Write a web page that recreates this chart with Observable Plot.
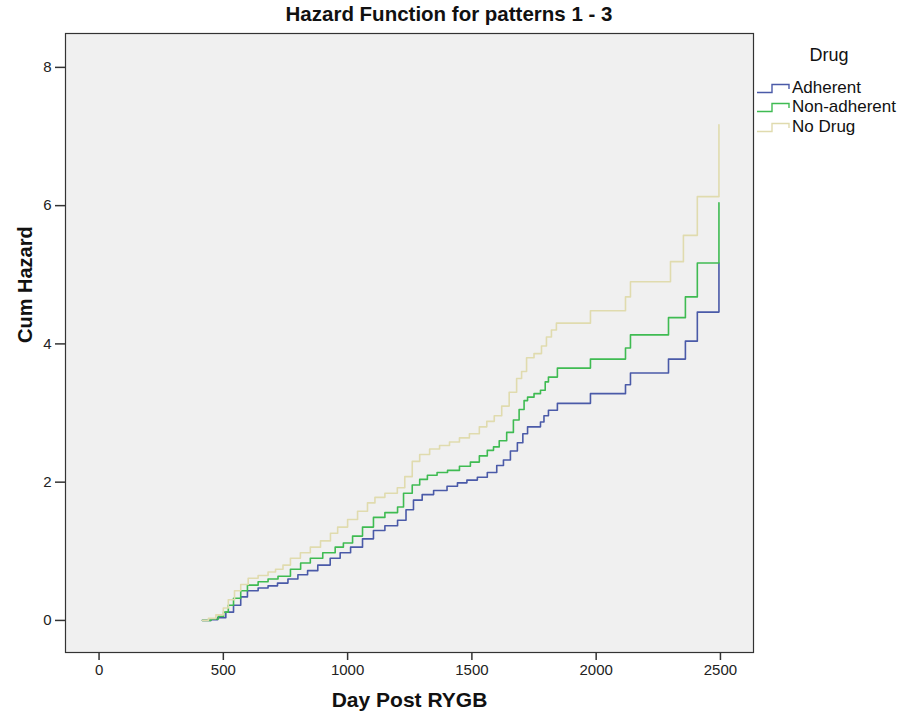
<!DOCTYPE html>
<html>
<head>
<meta charset="utf-8">
<script src="https://cdn.jsdelivr.net/npm/d3@7"></script>
<script src="https://cdn.jsdelivr.net/npm/@observablehq/plot@0.6"></script>
<style>
  body { margin: 0; background: #fff; font-family: "Liberation Sans", Arial, sans-serif; }
  #wrap { position: relative; width: 906px; height: 724px; overflow: hidden; }
  #title { position: absolute; left: 0; top: 2px; width: 898px; text-align: center; font-weight: bold; font-size: 20.5px; line-height: 24px; color: #111; }
  #chart { position: absolute; left: 0; top: 30px; }
  #legend { position: absolute; left: 757px; top: 40px; width: 149px; color: #111; }
  #legend .head { position: absolute; left: 48px; top: 4px; width: 48px; text-align: center; font-size: 18px; line-height: 22px; }
  #legend .row { position: absolute; left: 0; height: 20px; font-size: 17px; line-height: 20px; white-space: nowrap; }
  #legend .row svg { position: absolute; left: 0; top: 0; }
  #legend .row span { position: absolute; left: 35px; top: 0; }
</style>
</head>
<body>
<div id="wrap">
  <div id="title">Hazard Function for patterns 1 - 3</div>
  <div id="chart"></div>
  <div id="legend"></div>
</div>
<script>
// ---- Data ----
const groups = ["Adherent", "Non-adherent", "No Drug"];
const colors = ["#4a5aa8", "#3fbb52", "#e0dbae"];

const daysAdherent = [416, 450, 477, 510, 541, 570, 597, 640, 680, 718, 760, 800, 839, 880, 930, 970, 1012, 1060, 1104, 1150, 1201, 1235, 1265, 1300, 1346, 1400, 1442, 1480, 1522, 1562, 1600, 1627, 1655, 1683, 1705, 1724, 1776, 1790, 1808, 1844, 1977, 2118, 2138, 2291, 2359, 2407, 2494];
const hazAdherent = [0, 0.01, 0.04, 0.12, 0.22, 0.34, 0.43, 0.47, 0.50, 0.54, 0.60, 0.66, 0.72, 0.80, 0.90, 0.98, 1.06, 1.18, 1.30, 1.37, 1.45, 1.60, 1.74, 1.82, 1.88, 1.94, 1.99, 2.03, 2.07, 2.14, 2.24, 2.32, 2.45, 2.57, 2.70, 2.80, 2.87, 2.96, 3.04, 3.14, 3.28, 3.41, 3.58, 3.78, 4.04, 4.46, 5.17];

const daysNonAdherent = [416, 450, 480, 501, 520, 541, 570, 597, 640, 680, 720, 770, 811, 850, 900, 950, 983, 1020, 1060, 1104, 1150, 1201, 1225, 1260, 1290, 1321, 1360, 1402, 1450, 1494, 1530, 1562, 1587, 1610, 1640, 1667, 1690, 1710, 1724, 1750, 1776, 1795, 1808, 1844, 1977, 2118, 2138, 2291, 2359, 2407, 2494];
const hazNonAdherent = [0, 0.02, 0.06, 0.12, 0.22, 0.32, 0.43, 0.51, 0.56, 0.60, 0.64, 0.74, 0.83, 0.90, 0.98, 1.06, 1.12, 1.22, 1.35, 1.49, 1.56, 1.64, 1.84, 1.96, 2.04, 2.10, 2.14, 2.17, 2.23, 2.29, 2.38, 2.46, 2.51, 2.60, 2.72, 2.90, 3.05, 3.18, 3.23, 3.28, 3.33, 3.45, 3.52, 3.65, 3.78, 3.94, 4.13, 4.38, 4.68, 5.17, 6.04];

const daysNoDrug = [416, 440, 470, 500, 520, 545, 570, 600, 640, 680, 710, 740, 770, 810, 850, 891, 931, 960, 1000, 1040, 1080, 1110, 1150, 1200, 1230, 1260, 1290, 1330, 1370, 1410, 1450, 1490, 1530, 1560, 1590, 1620, 1650, 1680, 1700, 1720, 1750, 1780, 1800, 1820, 1840, 1977, 2118, 2138, 2299, 2351, 2407, 2494];
const hazNoDrug = [0, 0.03, 0.08, 0.18, 0.30, 0.43, 0.52, 0.61, 0.65, 0.70, 0.74, 0.80, 0.90, 0.98, 1.06, 1.15, 1.26, 1.35, 1.46, 1.58, 1.70, 1.78, 1.84, 1.92, 2.08, 2.30, 2.40, 2.48, 2.53, 2.58, 2.64, 2.70, 2.80, 2.88, 2.96, 3.10, 3.30, 3.50, 3.60, 3.80, 3.86, 3.97, 4.10, 4.20, 4.30, 4.48, 4.68, 4.90, 5.19, 5.57, 6.13, 7.17];

const xTicks = [0, 500, 1000, 1500, 2000, 2500];
const yTicks = [0, 2, 4, 6, 8];

// ---- Build table ----
const series = [
  [groups[0], daysAdherent, hazAdherent],
  [groups[1], daysNonAdherent, hazNonAdherent],
  [groups[2], daysNoDrug, hazNoDrug]
];
const rows = [];
for (const [g, ds, hs] of series) ds.forEach((d, i) => rows.push({drug: g, day: d, haz: hs[i]}));

const font = "'Liberation Sans', Arial, sans-serif";

const chart = Plot.plot({
  width: 906,
  height: 694,
  marginLeft: 65,
  marginRight: 153,
  marginTop: 3,
  marginBottom: 72,
  style: {fontFamily: font, fontSize: "15px", color: "#222", background: "transparent"},
  x: {domain: [-135, 2633], ticks: xTicks},
  y: {domain: [-0.464, 8.49], ticks: yTicks},
  color: {domain: groups, range: colors},
  marks: [
    Plot.frame({fill: "#f0f0f0", stroke: "none"}),
    Plot.line(rows, {x: "day", y: "haz", z: "drug", stroke: "drug", strokeWidth: 1.6, curve: "step-after"}),
    Plot.frame({stroke: "#333", strokeWidth: 1.2}),
    Plot.axisX({ticks: xTicks, tickFormat: d => String(d), tickSize: 8, tickPadding: 4, label: null, stroke: "#333", strokeWidth: 1.5, fontSize: 15}),
    Plot.axisY({ticks: yTicks, tickFormat: d => String(d), tickSize: 10, tickPadding: 4, label: null, stroke: "#333", strokeWidth: 1.5, fontSize: 15}),
    Plot.text(["Day Post RYGB"], {frameAnchor: "bottom", dy: 54, fontWeight: "bold", fontSize: 21, fill: "#111"}),
    Plot.text(["Cum Hazard"], {frameAnchor: "left", dx: -40, dy: 0, rotate: -90, fontWeight: "bold", fontSize: 20, fill: "#111"})
  ]
});
document.getElementById("chart").appendChild(chart);

// ---- Legend ----
const legend = document.getElementById("legend");
const head = document.createElement("div");
head.className = "head";
head.textContent = "Drug";
legend.appendChild(head);
const rowTops = [38, 57, 77];
groups.forEach((g, i) => {
  const r = document.createElement("div");
  r.className = "row";
  r.style.top = rowTops[i] + "px";
  r.innerHTML = `<svg width="36" height="20"><path d="M0,14.5H15V6.5H32V11" fill="none" stroke="${colors[i]}" stroke-width="1.4"/></svg><span>${g}</span>`;
  legend.appendChild(r);
});
</script>
</body>
</html>
